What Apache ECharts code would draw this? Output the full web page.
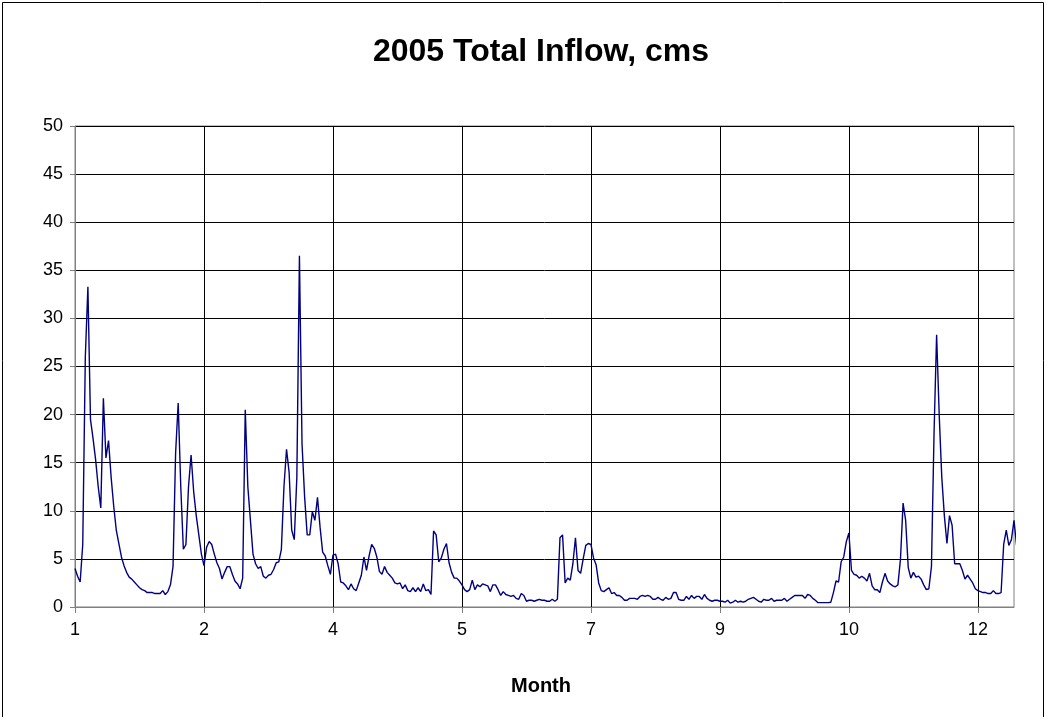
<!DOCTYPE html>
<html>
<head>
<meta charset="utf-8">
<script src="https://cdn.jsdelivr.net/npm/echarts@6/dist/echarts.min.js"></script>
<style>
html,body{margin:0;padding:0;background:#fff;}
#c{width:1047px;height:717px;}
</style>
</head>
<body>
<div id="c"></div>
<script>
const titleText = "2005 Total Inflow, cms";
const xAxisName = "Month";
const startDate = "2005-01-01";
const dayCount = 365;
const yTicks = [0, 5, 10, 15, 20, 25, 30, 35, 40, 45, 50];

const inflowJanMar = [
  4.0, 3.2, 2.6, 6.5, 26, 33.3, 19.5, 17.5, 15.3, 12.5,
  10.3, 21.7, 15.5, 17.3, 13.5, 10.5, 8.0, 6.6, 5.2, 4.3,
  3.6, 3.1, 2.9, 2.6, 2.3, 2.0, 1.8, 1.7, 1.5, 1.5,
  1.5, 1.4, 1.4, 1.4, 1.7, 1.3, 1.6, 2.3, 4.2, 16,
  21.2, 12.5, 6.0, 6.5, 12.5, 15.8, 12, 9.5, 7.5, 5.5,
  4.3, 6.2, 6.8, 6.5, 5.5, 4.6, 4.0, 2.9, 3.6, 4.2,
  4.2, 3.4, 2.7, 2.4, 1.9, 3.0, 20.5, 12.5, 9.0, 5.5,
  4.5, 4.0, 4.2, 3.2, 3.0, 3.3, 3.4, 3.9, 4.6, 4.7,
  6.0, 12.5, 16.4, 14.0, 8.0, 7.0, 13.5, 36.5, 17, 11.5
];
const inflowAprJun = [
  7.5, 7.5, 9.9, 9.0, 11.4, 8.3, 5.7, 5.3, 4.3, 3.4,
  5.4, 5.5, 4.5, 2.6, 2.5, 2.2, 1.8, 2.4, 1.9, 1.7,
  2.5, 3.3, 5.2, 3.8, 5.3, 6.5, 6.1, 5.2, 3.7, 3.4,
  4.2, 3.6, 3.3, 3.0, 2.5, 2.4, 2.5, 1.9, 2.3, 1.7,
  1.6, 2.0, 1.6, 2.0, 1.6, 2.4, 1.7, 1.8, 1.3, 7.9,
  7.5, 4.7, 5.1, 6.0, 6.6, 4.6, 3.6, 3.0, 3.0, 2.7,
  2.3, 1.8, 1.6, 1.8, 2.8, 1.8, 2.3, 2.1, 2.4, 2.3,
  2.2, 1.6, 2.3, 2.3, 1.8, 1.2, 1.6, 1.3, 1.2, 1.1,
  1.2, 0.9, 0.8, 1.4, 1.2, 0.6, 0.7, 0.7, 0.6, 0.7,
  0.8
];
const inflowJulSep = [
  0.7, 0.7, 0.6, 0.6, 0.8, 0.6, 0.8, 7.2, 7.5, 2.5,
  3.0, 2.8, 4.5, 7.2, 3.8, 3.5, 5.0, 6.4, 6.6, 6.5,
  5.1, 4.4, 2.5, 1.7, 1.6, 1.8, 2.0, 1.4, 1.5, 1.2,
  1.2, 1.0, 0.7, 0.7, 0.9, 0.9, 0.9, 0.8, 1.1, 1.2,
  1.1, 1.2, 1.1, 0.8, 0.8, 1.0, 0.8, 0.7, 1.0, 0.8,
  0.9, 1.5, 1.5, 0.8, 0.7, 0.7, 1.1, 0.8, 1.2, 0.9,
  1.1, 1.1, 0.8, 1.3, 0.9, 0.7, 0.6, 0.7, 0.7, 0.6,
  0.6, 0.5, 0.7, 0.4, 0.5, 0.7, 0.5, 0.6, 0.5, 0.6,
  0.8, 0.9, 1.0, 0.8, 0.6, 0.5, 0.8, 0.7, 0.7, 0.9,
  0.6, 0.7
];
const inflowOctDec = [
  0.7, 0.7, 0.9, 0.6, 0.8, 1.0, 1.2, 1.2, 1.2, 1.2,
  0.9, 1.3, 1.2, 0.9, 0.7, 0.45, 0.45, 0.45, 0.45, 0.45,
  0.5, 1.5, 2.7, 2.6, 4.7, 5.2, 6.8, 7.7, 3.8, 3.4,
  3.3, 3.0, 3.2, 3.0, 2.7, 3.5, 2.2, 1.8, 1.8, 1.5,
  2.6, 3.5, 2.7, 2.4, 2.2, 2.1, 2.3, 5.0, 10.8, 9.0,
  4.1, 3.0, 3.6, 3.1, 3.2, 2.9, 2.3, 1.8, 1.9, 4.2,
  18, 28.3, 20, 13.5, 9.5, 6.6, 9.5, 8.5, 4.5, 4.5,
  4.5, 3.8, 2.9, 3.3, 2.9, 2.5, 1.9, 1.7, 1.6, 1.5,
  1.5, 1.4, 1.4, 1.7, 1.4, 1.4, 1.5, 6.5, 8.0, 6.4,
  7.0, 9.0, 6.4
];

const inflow = inflowJanMar.concat(inflowAprJun, inflowJulSep, inflowOctDec);

const categories = [];
(function () {
  const d0 = new Date(startDate + "T00:00:00Z");
  for (let i = 0; i < dayCount; i++) {
    const d = new Date(d0.getTime() + i * 86400000);
    categories.push(d.toISOString().slice(0, 10));
  }
})();

const chart = echarts.init(document.getElementById('c'), null, {renderer: 'canvas'});
const FONT = "'Liberation Sans', Arial, sans-serif";
chart.setOption({
  backgroundColor: '#ffffff',
  animation: false,
  graphic: [{
    type: 'rect',
    shape: {x: 2.5, y: 2.5, width: 1041, height: 730},
    style: {fill: 'none', stroke: '#000', lineWidth: 1},
    silent: true
  }, {
    type: 'text',
    x: 541,
    y: 52,
    style: {text: titleText, fontFamily: FONT, fontSize: 32, fontWeight: 'bold', fill: '#000',
            align: 'center', verticalAlign: 'middle'}
  }, {
    type: 'text',
    x: 541,
    y: 686,
    style: {text: xAxisName, fontFamily: FONT, fontSize: 20, fontWeight: 'bold', fill: '#000',
            align: 'center', verticalAlign: 'middle'}
  }],
  grid: {
    left: 75, right: 33, top: 126, bottom: 110,
    show: true, borderColor: '#808080', borderWidth: 1, backgroundColor: '#fff'
  },
  xAxis: {
    type: 'category',
    data: categories,
    boundaryGap: false,
    axisLine: {show: true, lineStyle: {color: '#808080', width: 1}},
    axisTick: {show: true, interval: 49, length: 6, lineStyle: {color: '#808080'}},
    axisLabel: {
      interval: 49,
      margin: 14,
      fontFamily: FONT, fontSize: 18, color: '#000',
      formatter: function (v) { return String(parseInt(v.slice(5, 7), 10)); }
    },
    splitLine: {show: true, interval: 49, lineStyle: {color: '#000', width: 1}}
  },
  yAxis: {
    type: 'value',
    min: yTicks[0],
    max: yTicks[yTicks.length - 1],
    interval: 5,
    axisLine: {show: true, lineStyle: {color: '#808080', width: 1}},
    axisTick: {show: true, length: 5, lineStyle: {color: '#808080'}},
    axisLabel: {margin: 12, fontFamily: FONT, fontSize: 18, color: '#000'},
    splitLine: {show: true, lineStyle: {color: '#000', width: 1}}
  },
  series: [{
    type: 'line',
    data: inflow,
    showSymbol: false,
    symbol: 'none',
    lineStyle: {color: '#000080', width: 1.4},
    silent: true
  }]
});
</script>
</body>
</html>
